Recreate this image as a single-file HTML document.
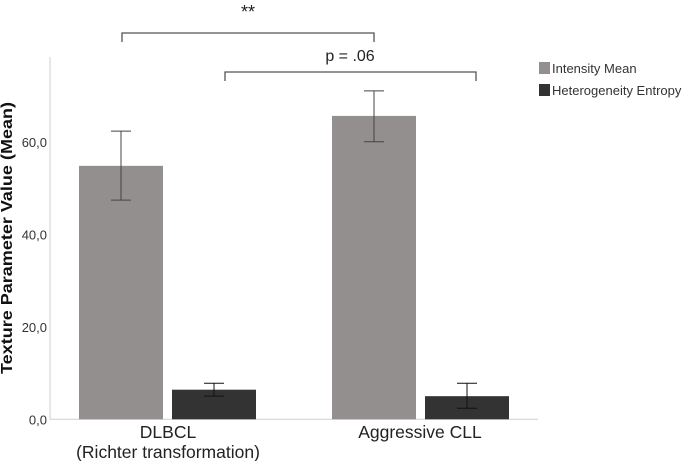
<!DOCTYPE html>
<html><head><meta charset="utf-8"><style>
body{margin:0;background:#fff;}
svg text{font-family:"Liberation Sans",sans-serif;}
</style></head><body>
<svg id="chart" width="685" height="461" xmlns="http://www.w3.org/2000/svg"></svg>
<script>
const categories = ["DLBCL", "Aggressive CLL"];
const seriesNames = ["Intensity Mean", "Heterogeneity Entropy"];
const intensityMean = [54.8, 65.6];
const intensityLow = [47.4, 60.0];
const intensityHigh = [62.3, 71.0];
const entropyMean = [6.4, 5.0];
const entropyLow = [5.0, 2.4];
const entropyHigh = [7.8, 7.8];
const yTicks = [0, 20, 40, 60];
const yTickLabels = ["0,0", "20,0", "40,0", "60,0"];

const NS = "http://www.w3.org/2000/svg";
const svg = document.getElementById("chart");
function el(tag, attrs, text){const e=document.createElementNS(NS,tag);for(const k in attrs)e.setAttribute(k,attrs[k]);if(text!==undefined)e.textContent=text;svg.appendChild(e);return e;}
const y0 = 419.3, pxPerUnit = 4.625;
function y(v){return y0 - v*pxPerUnit;}
const groupLeft = [79, 332];
const barW = 84, gap = 9;
function x(ci, si){return groupLeft[ci] + si*(barW+gap);}
const colors = ["#938f8e", "#333333"];
const axisX = 50;

let a = el("line",{x1:axisX,y1:57,x2:axisX,y2:y0,stroke:"#cfcfcf","stroke-width":1});


a = el("line",{x1:axisX,y1:y0,x2:538,y2:y0,stroke:"#cfcfcf","stroke-width":1});



yTicks.forEach((t,i)=>{
  const lb = el("text",{x:47,y:y(t)+5,"text-anchor":"end","font-size":13,fill:"#333"},yTickLabels[i]);
  
  
});

const series = [[intensityMean,intensityLow,intensityHigh],[entropyMean,entropyLow,entropyHigh]];
series.forEach((s,si)=>{
  categories.forEach((c,ci)=>{
    const bx = x(ci,si);
    const b = el("rect",{x:bx,y:y(s[0][ci]),width:barW,height:y0-y(s[0][ci]),fill:colors[si]});
    
    
    const cx = bx + barW/2, hy = y(s[2][ci]), ly = y(s[1][ci]);
    const eb = el("path",{d:`M${cx},${hy}V${ly}M${cx-10},${hy}H${cx+10}M${cx-10},${ly}H${cx+10}`,stroke:si===0?"#444":"#111",fill:"none","stroke-width":1});
    
    
  });
});

let t = el("text",{x:168,y:438,"text-anchor":"middle","font-size":17.5,fill:"#222"},"DLBCL");


t = el("text",{x:168,y:458,"text-anchor":"middle","font-size":17.5,fill:"#222"},"(Richter transformation)");


t = el("text",{x:420,y:438,"text-anchor":"middle","font-size":17.5,fill:"#222"},"Aggressive CLL");



t = el("text",{x:0,y:0,transform:"translate(12,238) rotate(-90)","text-anchor":"middle","font-size":16,"font-weight":"bold",fill:"#111",textLength:272,lengthAdjust:"spacingAndGlyphs"},"Texture Parameter Value (Mean)");



let br = el("path",{d:"M122,42V33H374V42",stroke:"#555",fill:"none","stroke-width":1.3});


t = el("text",{x:248,y:18,"text-anchor":"middle","font-size":18,fill:"#222"},"**");


br = el("path",{d:"M225,81V72H476V81",stroke:"#555",fill:"none","stroke-width":1.3});


t = el("text",{x:350,y:61,"text-anchor":"middle","font-size":16,fill:"#222"},"p = .06");



seriesNames.forEach((n,i)=>{
  const ly = 62 + i*22;
  const sw = el("rect",{x:539,y:ly,width:11,height:12,fill:colors[i]});
  
  
  const lt = el("text",{x:552,y:ly+11,"font-size":13,fill:"#333"},n);
  
  
});
</script>
</body></html>
